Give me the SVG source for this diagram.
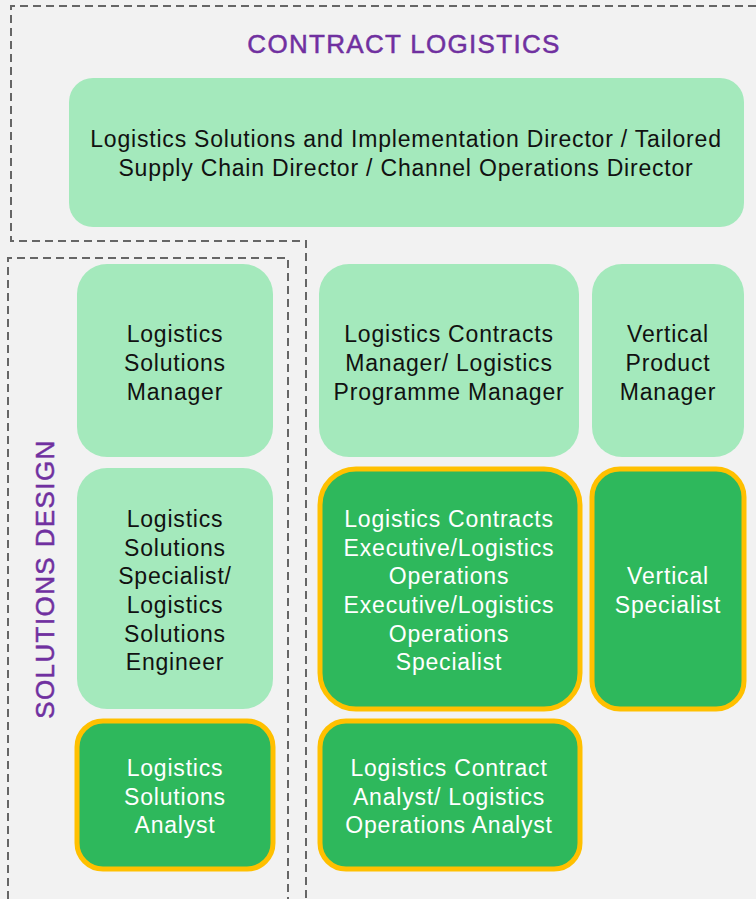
<svg xmlns="http://www.w3.org/2000/svg" width="756" height="899" viewBox="0 0 756 899">
<style>
.lt{fill:#a4e9bc}
.dk{fill:#2eb85c;stroke:#ffc000;stroke-width:5}
.t{font-family:"Liberation Sans",Arial,sans-serif;font-size:23px;letter-spacing:0.8px;text-anchor:middle;fill:#111}
.w{fill:#fff}
.h{font-family:"Liberation Sans",Arial,sans-serif;font-size:26px;fill:#7030a0;stroke:#7030a0;stroke-width:0.5;text-anchor:middle;letter-spacing:1.3px}
.d{fill:none;stroke:#666;stroke-width:2;stroke-dasharray:8 5}
</style>
<rect width="756" height="899" fill="#f2f2f2"/>
<g id="connectors">
<path class="d" d="M756 6 H11 V241 H306 V899"/>
<path class="d" d="M8 899 V258 H288 V899"/>
</g>
<text class="h" x="404" y="53">CONTRACT LOGISTICS</text>
<text class="h" transform="translate(54 579) rotate(-90)" style="letter-spacing:1.4px">SOLUTIONS DESIGN</text>
<g id="director">
<rect class="lt" x="69" y="78" width="675" height="149" rx="24"/>
<text class="t"><tspan x="406" y="147">Logistics Solutions and Implementation Director / Tailored</tspan><tspan x="406" y="176">Supply Chain Director / Channel Operations Director</tspan></text>
</g>
<g id="lsm">
<rect class="lt" x="77" y="264" width="196" height="193" rx="30"/>
<text class="t"><tspan x="175" y="342">Logistics</tspan><tspan x="175" y="371">Solutions</tspan><tspan x="175" y="400">Manager</tspan></text>
</g>
<g id="lcm">
<rect class="lt" x="319" y="264" width="260" height="193" rx="30"/>
<text class="t"><tspan x="449" y="342">Logistics Contracts</tspan><tspan x="449" y="371">Manager/ Logistics</tspan><tspan x="449" y="400">Programme Manager</tspan></text>
</g>
<g id="vpm">
<rect class="lt" x="592" y="264" width="152" height="193" rx="30"/>
<text class="t"><tspan x="668" y="342">Vertical</tspan><tspan x="668" y="371">Product</tspan><tspan x="668" y="400">Manager</tspan></text>
</g>
<g id="lss">
<rect class="lt" x="77" y="468" width="196" height="241" rx="30"/>
<text class="t"><tspan x="175" y="527">Logistics</tspan><tspan x="175" y="556">Solutions</tspan><tspan x="175" y="584">Specialist/</tspan><tspan x="175" y="613">Logistics</tspan><tspan x="175" y="642">Solutions</tspan><tspan x="175" y="670">Engineer</tspan></text>
</g>
<g id="lce">
<rect class="dk" x="320" y="469" width="260" height="240" rx="36"/>
<text class="t w"><tspan x="449" y="527">Logistics Contracts</tspan><tspan x="449" y="556">Executive/Logistics</tspan><tspan x="449" y="584">Operations</tspan><tspan x="449" y="613">Executive/Logistics</tspan><tspan x="449" y="642">Operations</tspan><tspan x="449" y="670">Specialist</tspan></text>
</g>
<g id="vs">
<rect class="dk" x="592" y="469" width="152" height="240" rx="28"/>
<text class="t w"><tspan x="668" y="584">Vertical</tspan><tspan x="668" y="613">Specialist</tspan></text>
</g>
<g id="lsa">
<rect class="dk" x="77" y="721" width="196" height="148" rx="26"/>
<text class="t w"><tspan x="175" y="776">Logistics</tspan><tspan x="175" y="805">Solutions</tspan><tspan x="175" y="833">Analyst</tspan></text>
</g>
<g id="lca">
<rect class="dk" x="320" y="721" width="260" height="148" rx="26"/>
<text class="t w"><tspan x="449" y="776">Logistics Contract</tspan><tspan x="449" y="805">Analyst/ Logistics</tspan><tspan x="449" y="833">Operations Analyst</tspan></text>
</g>
</svg>
